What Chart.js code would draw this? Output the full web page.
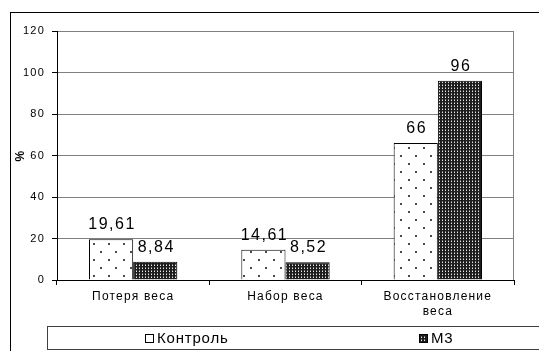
<!DOCTYPE html>
<html>
<head>
<meta charset="utf-8">
<script src="https://cdn.jsdelivr.net/npm/chart.js@4/dist/chart.umd.min.js"></script>
<style>
  html, body { margin: 0; padding: 0; background: #fff; }
  #wrap { width: 539px; height: 351px; position: relative; }
</style>
</head>
<body>
<div id="wrap"><canvas id="c" width="539" height="351"></canvas></div>
<script>
// Weight dynamics, % of animals per group
const categories = ['Потеря веса', 'Набор веса', ['Восстановление', 'веса']];
const seriesNames = ['Контроль', 'М3'];
const controlValues = [19.61, 14.61, 66];
const m3Values = [8.84, 8.52, 96];
const yTicks = [0, 20, 40, 60, 80, 100, 120];
const yTitle = '%';

const FONT = 'Liberation Sans, Arial, sans-serif';

// Sparse staggered dots on white
function dotPattern() {
  const t = document.createElement('canvas');
  t.width = 15; t.height = 16;
  const g = t.getContext('2d');
  g.fillStyle = '#fff'; g.fillRect(0, 0, 15, 16);
  g.fillStyle = '#4a4a4a';
  g.fillRect(3, 3, 2, 2);
  g.fillRect(10, 11, 2, 2);
  return g.createPattern(t, 'repeat');
}

// Dense dark grid with light specks
function darkPattern() {
  const t = document.createElement('canvas');
  t.width = 3; t.height = 3;
  const g = t.getContext('2d');
  g.fillStyle = '#1e1e1e'; g.fillRect(0, 0, 3, 3);
  g.fillStyle = '#e8e8e8'; g.fillRect(1, 1, 1, 1);
  g.fillStyle = '#7a7a7a'; g.fillRect(1, 0, 1, 1);
  return g.createPattern(t, 'repeat');
}

const fills = [dotPattern(), darkPattern()];

const fmt = v => String(v).replace('.', ',');

const framePlugin = {
  id: 'frame',
  beforeDraw(chart) {
    const ctx = chart.ctx;
    ctx.save();
    ctx.fillStyle = '#fff';
    ctx.fillRect(0, 0, chart.width, chart.height);
    ctx.strokeStyle = '#000';
    ctx.lineWidth = 1;
    ctx.strokeRect(10.5, 12.5, chart.width + 40, chart.height + 40);
    ctx.restore();
    ctx.letterSpacing = '1.2px';
  },
  beforeDatasetsDraw(chart) {
    const { ctx, chartArea: a } = chart;
    ctx.save();
    ctx.strokeStyle = '#808080';
    ctx.lineWidth = 1;
    const x = Math.round(a.right) - 0.5;
    ctx.beginPath();
    ctx.moveTo(x, Math.round(a.top) + 0.5);
    ctx.lineTo(x, Math.round(a.bottom));
    ctx.stroke();
    ctx.restore();
  }
};

const valueLabels = {
  id: 'valueLabels',
  afterDatasetsDraw(chart) {
    const ctx = chart.ctx;
    ctx.save();
    ctx.font = '16px ' + FONT;
    ctx.letterSpacing = '1.5px';
    ctx.fillStyle = '#000';
    ctx.textAlign = 'center';
    ctx.textBaseline = 'alphabetic';
    chart.data.datasets.forEach((ds, i) => {
      chart.getDatasetMeta(i).data.forEach((bar, j) => {
        ctx.fillText(fmt(ds.data[j]), bar.x + 1, bar.y - 10);
      });
    });
    ctx.restore();
  }
};

const boxedLegend = {
  id: 'boxedLegend',
  afterDraw(chart) {
    const ctx = chart.ctx;
    const top = 326.5, h = 23;
    ctx.save();
    ctx.strokeStyle = '#404040';
    ctx.lineWidth = 1;
    ctx.strokeRect(47.5, top, chart.width, h);
    const itemX = [145, 419];
    ctx.font = '15px ' + FONT;
    ctx.letterSpacing = '0.8px';
    ctx.textBaseline = 'middle';
    ctx.textAlign = 'left';
    chart.data.datasets.forEach((ds, i) => {
      const x = itemX[i];
      const cy = top + h / 2;
      ctx.fillStyle = ds.backgroundColor;
      ctx.fillRect(x, cy - 4, 8, 8);
      ctx.strokeStyle = '#000';
      ctx.strokeRect(x + 0.5, cy - 3.5, 8, 8);
      ctx.fillStyle = '#000';
      ctx.fillText(ds.label, x + 12, cy + 1);
    });
    ctx.restore();
  }
};

Chart.defaults.font.family = FONT;
Chart.defaults.color = '#000';

new Chart(document.getElementById('c'), {
  type: 'bar',
  data: {
    labels: categories,
    datasets: [
      { label: seriesNames[0], data: controlValues, backgroundColor: fills[0], borderColor: '#000', borderWidth: 1 },
      { label: seriesNames[1], data: m3Values, backgroundColor: fills[1], borderColor: '#000', borderWidth: 1 }
    ]
  },
  options: {
    responsive: false,
    devicePixelRatio: 1,
    animation: false,
    events: [],
    layout: { padding: { left: 0, top: 31, right: 25, bottom: 0 } },
    datasets: { bar: { categoryPercentage: 0.58, barPercentage: 1.0 } },
    plugins: {
      legend: { display: false },
      tooltip: { enabled: false }
    },
    scales: {
      x: {
        grid: { offset: true, drawOnChartArea: false, tickLength: 5, tickColor: '#000', lineWidth: 1 },
        border: { color: '#000', width: 1 },
        ticks: { font: { size: 12, lineHeight: 1.25 }, padding: 4, maxRotation: 0, autoSkip: false, color: '#000' },
        afterFit(s) { s.height = 71; }
      },
      y: {
        min: 0, max: 120,
        afterBuildTicks(s) { s.ticks = yTicks.map(v => ({ value: v })); },
        grid: { color: '#808080', tickColor: '#000', tickLength: 5, lineWidth: 1 },
        border: { color: '#000', width: 1 },
        ticks: { font: { size: 11 }, padding: 7, color: '#000' },
        title: { display: true, text: yTitle, font: { size: 12, weight: 'bold' }, padding: { top: 13, bottom: 0 }, color: '#000' },
        afterFit(s) { s.width = 57; }
      }
    }
  },
  plugins: [framePlugin, valueLabels, boxedLegend]
});
</script>
</body>
</html>
